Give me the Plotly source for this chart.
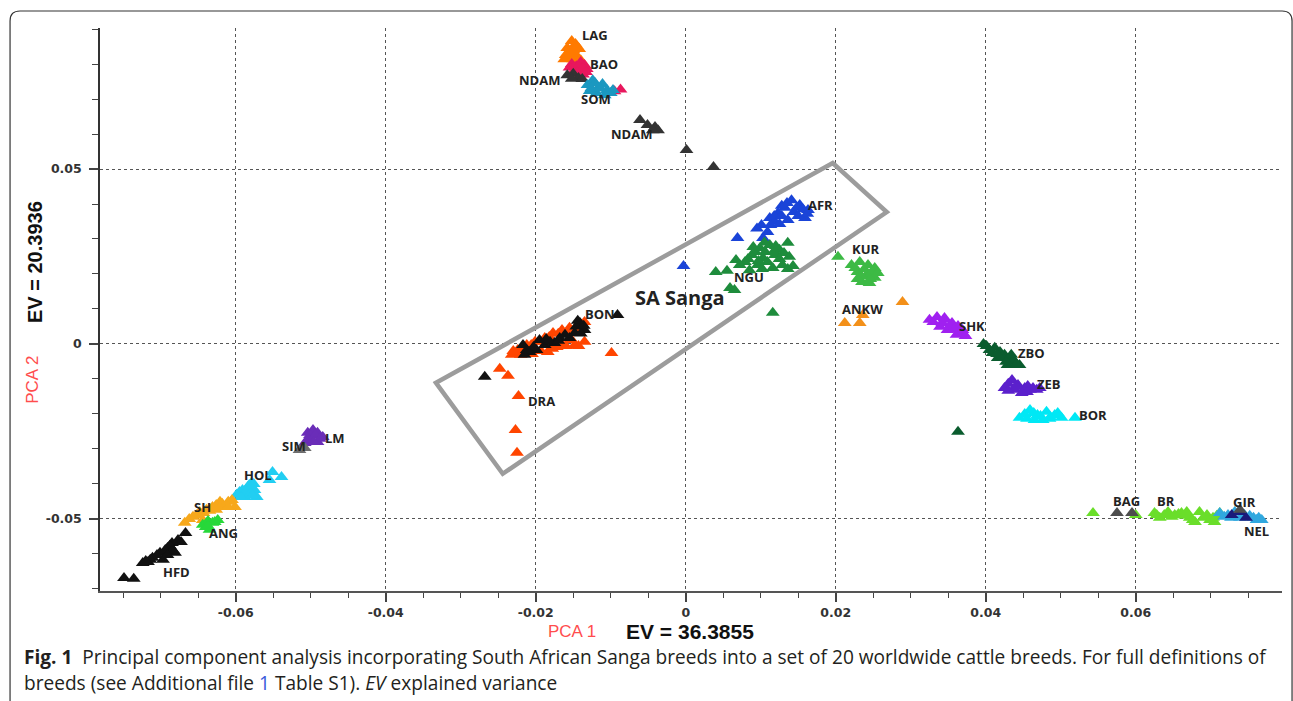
import plotly.graph_objects as go

# ---------------- data (PCA1, PCA2) ----------------
LAG_x = [-0.0152, -0.0147, -0.0158, -0.0150, -0.0142, -0.0160, -0.0153, -0.0145, -0.0140, -0.0162, -0.0148,
         -0.0155, -0.0148, -0.0145, -0.0157, -0.0150]
LAG_y = [0.0866, 0.0857, 0.0846, 0.0840, 0.0843, 0.0826, 0.0823, 0.0820, 0.0811, 0.0814, 0.0806,
         0.0834, 0.0831, 0.0850, 0.0817, 0.0814]

BAO_x = [-0.0152, -0.0146, -0.0140, -0.0135, -0.0148, -0.0140, -0.0132, -0.0155, -0.0137, -0.0143, -0.0087, -0.0095,
         -0.0149, -0.0143, -0.0137, -0.0145, -0.0150, -0.0133]
BAO_y = [0.0800, 0.0794, 0.0806, 0.0797, 0.0783, 0.0780, 0.0786, 0.0790, 0.0770, 0.0768, 0.0727, 0.0722,
         0.0791, 0.0794, 0.0789, 0.0776, 0.0777, 0.0777]

NDAM_x = [-0.0158, -0.0150, -0.0143, -0.0138, -0.0152, -0.0061, -0.0051, -0.0041, -0.0037, -0.0044, 0.0001, 0.0037]
NDAM_y = [0.0768, 0.0772, 0.0760, 0.0757, 0.0758, 0.0640, 0.0626, 0.0620, 0.0611, 0.0611, 0.0554, 0.0506]

SOM_x = [-0.0131, -0.0124, -0.0117, -0.0111, -0.0105, -0.0100, -0.0119, -0.0128, -0.0108, -0.0097,
         -0.0126, -0.0114, -0.0121, -0.0103]
SOM_y = [0.0740, 0.0754, 0.0731, 0.0743, 0.0726, 0.0717, 0.0717, 0.0723, 0.0711, 0.0726,
         0.0731, 0.0731, 0.0746, 0.0717]

AFR_x = [0.0141, 0.0152, 0.0163, 0.0132, 0.0123, 0.0144, 0.0159, 0.0112, 0.0101, 0.0136, 0.0119, 0.0109, 0.0103, 0.0069, -0.0003,
         0.0128, 0.0135, 0.0148, 0.0156, 0.0118, 0.0128, 0.0150, 0.0095, 0.0113, 0.0125, 0.0162]
AFR_y = [0.0411, 0.0397, 0.0383, 0.0389, 0.0374, 0.0377, 0.0360, 0.0360, 0.0340, 0.0354, 0.0349, 0.0320, 0.0303, 0.0303, 0.0223,
         0.0395, 0.0403, 0.0390, 0.0385, 0.0366, 0.0366, 0.0366, 0.0330, 0.0340, 0.0343, 0.0372]

NGU_x = [0.0099, 0.0112, 0.0125, 0.0136, 0.0088, 0.0103, 0.0119, 0.0079, 0.0072, 0.0096, 0.0109, 0.0129, 0.0143, 0.0116, 0.0085,
         0.0040, 0.0055, 0.0059, 0.0065, 0.0116,
         0.0093, 0.0106, 0.0118, 0.0131, 0.0083, 0.0097, 0.0125, 0.0138, 0.0090, 0.0105, 0.0120, 0.0067, 0.0102, 0.0136]
NGU_y = [0.0274, 0.0283, 0.0269, 0.0289, 0.0254, 0.0246, 0.0254, 0.0234, 0.0226, 0.0226, 0.0234, 0.0226, 0.0223, 0.0217, 0.0211,
         0.0206, 0.0209, 0.0160, 0.0154, 0.0089,
         0.0263, 0.0263, 0.0266, 0.0260, 0.0243, 0.0237, 0.0243, 0.0249, 0.0277, 0.0290, 0.0280, 0.0240, 0.0214, 0.0214]

KUR_x = [0.0203, 0.0221, 0.0232, 0.0243, 0.0252, 0.0229, 0.0241, 0.0252, 0.0235, 0.0245,
         0.0226, 0.0238, 0.0248, 0.0234, 0.0246, 0.0256, 0.0229]
KUR_y = [0.0249, 0.0226, 0.0234, 0.0226, 0.0217, 0.0206, 0.0197, 0.0189, 0.0177, 0.0174,
         0.0217, 0.0214, 0.0206, 0.0194, 0.0186, 0.0203, 0.0186]

ANKW_x = [0.0212, 0.0232, 0.0236, 0.0289]
ANKW_y = [0.0060, 0.0060, 0.0083, 0.0120]

DRA_x = [-0.0232, -0.0224, -0.0212, -0.0201, -0.0188, -0.0177, -0.0165, -0.0155, -0.0144, -0.0135, -0.0164, -0.0148, -0.0135,
         -0.0184, -0.0099, -0.0248, -0.0237, -0.0223, -0.0227, -0.0225,
         -0.0226, -0.0218, -0.0206, -0.0195, -0.0182, -0.0170, -0.0158, -0.0149, -0.0140, -0.0172, -0.0160, -0.0143,
         -0.0193, -0.0205, -0.0220, -0.0230, -0.0178, -0.0152]
DRA_y = [-0.0031, -0.0017, -0.0003, 0.0006, 0.0017, 0.0031, 0.0040, 0.0046, 0.0054, 0.0063, -0.0003, -0.0003, 0.0006,
         -0.0023, -0.0026, -0.0071, -0.0091, -0.0149, -0.0246, -0.0311,
         -0.0026, -0.0011, -0.0003, 0.0006, 0.0020, 0.0029, 0.0034, 0.0040, 0.0043, -0.0009, -0.0006, -0.0006,
         -0.0020, -0.0029, -0.0031, -0.0020, -0.0014, 0.0011]

BON_x = [-0.0091, -0.0141, -0.0135, -0.0148, -0.0155, -0.0168, -0.0175, -0.0188, -0.0199, -0.0208, -0.0215, -0.0195, -0.0217, -0.0268,
         -0.0146, -0.0161, -0.0181, -0.0203, -0.0212, -0.0140, -0.0170, -0.0136, -0.0144, -0.0186]
BON_y = [0.0083, 0.0060, 0.0040, 0.0031, 0.0017, 0.0017, 0.0003, -0.0003, -0.0017, -0.0023, -0.0031, 0.0011, -0.0003, -0.0094,
         0.0050, 0.0026, 0.0006, -0.0009, -0.0017, 0.0030, 0.0009, 0.0052, 0.0066, 0.0014]

SHK_x = [0.0325, 0.0335, 0.0345, 0.0355, 0.0363, 0.0369, 0.0373, 0.0361, 0.0349, 0.0339,
         0.0330, 0.0342, 0.0352, 0.0358, 0.0366, 0.0370, 0.0345]
SHK_y = [0.0069, 0.0077, 0.0069, 0.0060, 0.0051, 0.0040, 0.0023, 0.0026, 0.0040, 0.0049,
         0.0063, 0.0060, 0.0051, 0.0043, 0.0031, 0.0030, 0.0074]

ZBO_x = [0.0397, 0.0405, 0.0412, 0.0419, 0.0425, 0.0432, 0.0439, 0.0445, 0.0429, 0.0416, 0.0363,
         0.0401, 0.0409, 0.0422, 0.0436, 0.0441, 0.0427, 0.0415, 0.0434]
ZBO_y = [0.0000, -0.0017, -0.0011, -0.0023, -0.0031, -0.0040, -0.0051, -0.0060, -0.0060, -0.0040, -0.0251,
         -0.0006, -0.0026, -0.0037, -0.0049, -0.0057, -0.0051, -0.0029, -0.0031]

ZEB_x = [0.0425, 0.0435, 0.0443, 0.0452, 0.0459, 0.0468, 0.0472, 0.0439, 0.0448,
         0.0430, 0.0440, 0.0456, 0.0463, 0.0430, 0.0455]
ZEB_y = [-0.0126, -0.0103, -0.0117, -0.0126, -0.0131, -0.0131, -0.0126, -0.0131, -0.0140,
         -0.0114, -0.0120, -0.0120, -0.0126, -0.0134, -0.0137]

BOR_x = [0.0445, 0.0459, 0.0469, 0.0476, 0.0481, 0.0492, 0.0501, 0.0465, 0.0519,
         0.0452, 0.0464, 0.0473, 0.0486, 0.0496, 0.0455, 0.0485]
BOR_y = [-0.0211, -0.0189, -0.0203, -0.0217, -0.0194, -0.0203, -0.0211, -0.0217, -0.0211,
         -0.0200, -0.0197, -0.0206, -0.0209, -0.0197, -0.0214, -0.0214]

BR_x = [0.0543, 0.0600, 0.0625, 0.0632, 0.0643, 0.0652, 0.0661, 0.0672, 0.0679, 0.0685, 0.0695, 0.0703, 0.0705, 0.0712,
        0.0628, 0.0638, 0.0648, 0.0657, 0.0666, 0.0676, 0.0690, 0.0699, 0.0708, 0.0668]
BR_y = [-0.0483, -0.0489, -0.0483, -0.0497, -0.0480, -0.0489, -0.0483, -0.0497, -0.0509, -0.0480, -0.0489, -0.0497, -0.0509, -0.0483,
        -0.0489, -0.0489, -0.0494, -0.0486, -0.0491, -0.0503, -0.0497, -0.0503, -0.0491, -0.0480]

BAG_x = [0.0575, 0.0595, 0.0739]
BAG_y = [-0.0483, -0.0483, -0.0474]

NEL_x = [0.0712, 0.0723, 0.0739, 0.0752, 0.0761, 0.0768, 0.0732, 0.0718, 0.0727, 0.0745, 0.0757, 0.0764]
NEL_y = [-0.0483, -0.0489, -0.0497, -0.0491, -0.0503, -0.0503, -0.0480, -0.0494, -0.0497, -0.0489, -0.0497, -0.0497]

GIR_x = [0.0728, 0.0739, 0.0747]
GIR_y = [-0.0489, -0.0480, -0.0497]

LM_x = [-0.0504, -0.0497, -0.0491, -0.0484, -0.0499, -0.0508, -0.0491, -0.0501, -0.0494, -0.0488, -0.0503, -0.0496]
LM_y = [-0.0254, -0.0246, -0.0254, -0.0266, -0.0274, -0.0283, -0.0280, -0.0260, -0.0260, -0.0271, -0.0274, -0.0280]

SIM_x = [-0.0515, -0.0508]
SIM_y = [-0.0303, -0.0297]

HOL_x = [-0.0599, -0.0591, -0.0584, -0.0579, -0.0575, -0.0588, -0.0572, -0.0555, -0.0551, -0.0539,
         -0.0595, -0.0586, -0.0580, -0.0582, -0.0576, -0.0593, -0.0578]
HOL_y = [-0.0431, -0.0417, -0.0409, -0.0397, -0.0417, -0.0437, -0.0437, -0.0389, -0.0366, -0.0380,
         -0.0423, -0.0420, -0.0426, -0.0403, -0.0400, -0.0437, -0.0434]

SH_x = [-0.0668, -0.0657, -0.0648, -0.0639, -0.0631, -0.0621, -0.0615, -0.0605, -0.0601, -0.0644,
        -0.0662, -0.0652, -0.0643, -0.0635, -0.0626, -0.0618, -0.0610, -0.0626, -0.0610]
SH_y = [-0.0511, -0.0494, -0.0480, -0.0474, -0.0466, -0.0451, -0.0466, -0.0446, -0.0466, -0.0503,
        -0.0500, -0.0489, -0.0483, -0.0477, -0.0460, -0.0457, -0.0451, -0.0474, -0.0466]

ANG_x = [-0.0644, -0.0637, -0.0631, -0.0635, -0.0624, -0.0640, -0.0628, -0.0637]
ANG_y = [-0.0517, -0.0506, -0.0511, -0.0531, -0.0503, -0.0523, -0.0509, -0.0520]

HFD_x = [-0.0667, -0.0685, -0.0677, -0.0691, -0.0701, -0.0711, -0.0717, -0.0697, -0.0681, -0.0724, -0.0749, -0.0736,
         -0.0688, -0.0694, -0.0705, -0.0714, -0.0684, -0.0691, -0.0720, -0.0673]
HFD_y = [-0.0540, -0.0569, -0.0560, -0.0583, -0.0597, -0.0611, -0.0623, -0.0617, -0.0597, -0.0626, -0.0669, -0.0671,
         -0.0577, -0.0589, -0.0603, -0.0617, -0.0589, -0.0603, -0.0620, -0.0566]

# breed labels
label_text = ["LAG", "BAO", "NDAM", "SOM", "NDAM", "AFR", "NGU", "KUR", "ANKW", "BON", "DRA",
              "SHK", "ZBO", "ZEB", "BOR", "BAG", "BR", "GIR", "NEL", "SIM", "LM", "HOL", "SH", "ANG", "HFD"]
label_x = [-0.0121, -0.0109, -0.0195, -0.0120, -0.0072, 0.0179, 0.0084, 0.0240, 0.0236, -0.0115, -0.0192,
           0.0381, 0.0461, 0.0484, 0.0543, 0.0588, 0.0640, 0.0745, 0.0761, -0.0523, -0.0468, -0.0571, -0.0644, -0.0616, -0.0679]
label_y = [0.0883, 0.0800, 0.0754, 0.0700, 0.0600, 0.0397, 0.0191, 0.0271, 0.0100, 0.0086, -0.0163,
           0.0051, -0.0026, -0.0114, -0.0203, -0.0449, -0.0449, -0.0451, -0.0534, -0.0291, -0.0269, -0.0374, -0.0466, -0.0540, -0.0651]

# SA Sanga box corners
box_x = [-0.0333, -0.0244, 0.0268, 0.0196]
box_y = [-0.0111, -0.0371, 0.0377, 0.0517]

x_tickvals = [-0.06, -0.04, -0.02, 0, 0.02, 0.04, 0.06]
x_ticktext = ["-0.06", "-0.04", "-0.02", "0", "0.02", "0.04", "0.06"]
y_tickvals = [-0.05, 0, 0.05]
y_ticktext = ["-0.05", "0", "0.05"]

# ---------------- figure ----------------
series = [
    ("LAG", LAG_x, LAG_y, "#ff7a00"),
    ("BAO", BAO_x, BAO_y, "#e8175d"),
    ("NDAM", NDAM_x, NDAM_y, "#333333"),
    ("SOM", SOM_x, SOM_y, "#1b98c0"),
    ("AFR", AFR_x, AFR_y, "#1a44d8"),
    ("NGU", NGU_x, NGU_y, "#1e8c3c"),
    ("KUR", KUR_x, KUR_y, "#3dba45"),
    ("ANKW", ANKW_x, ANKW_y, "#f39019"),
    ("DRA", DRA_x, DRA_y, "#ff4500"),
    ("BON", BON_x, BON_y, "#111111"),
    ("SHK", SHK_x, SHK_y, "#a020f0"),
    ("ZBO", ZBO_x, ZBO_y, "#0a5c2e"),
    ("ZEB", ZEB_x, ZEB_y, "#5b20cc"),
    ("BOR", BOR_x, BOR_y, "#00e8f5"),
    ("BR", BR_x, BR_y, "#6ade2a"),
    ("NEL", NEL_x, NEL_y, "#30a8df"),
    ("GIR", GIR_x, GIR_y, "#1a1a7a"),
    ("BAG", BAG_x, BAG_y, "#4d4d4d"),
    ("LM", LM_x, LM_y, "#6a2db8"),
    ("SIM", SIM_x, SIM_y, "#6e6e6e"),
    ("HOL", HOL_x, HOL_y, "#22cef2"),
    ("SH", SH_x, SH_y, "#f7a81b"),
    ("ANG", ANG_x, ANG_y, "#27d83a"),
    ("HFD", HFD_x, HFD_y, "#111111"),
]

fig = go.Figure()
for name, xs, ys, col in series:
    fig.add_trace(go.Scatter(
        x=xs, y=ys, mode="markers", name=name, showlegend=False,
        marker=dict(symbol="triangle-up", size=12, color=col, line=dict(width=0)),
    ))

annotations = []
for t, lx, ly in zip(label_text, label_x, label_y):
    annotations.append(dict(x=lx, y=ly, xref="x", yref="y", text="<b>%s</b>" % t,
                            xanchor="center", yanchor="middle",
                            showarrow=False, font=dict(family="Open Sans", size=13, color="#222222")))

annotations.append(dict(x=-0.0008, y=0.0134, xref="x", yref="y", text="<b>SA Sanga</b>", showarrow=False,
                        xanchor="center", yanchor="middle",
                        font=dict(family="Open Sans", size=20, color="#222222")))

# axis titles
annotations += [
    dict(x=0.3993, y=-0.0728, xref="paper", yref="paper", text="PCA 1", showarrow=False,
         xanchor="center", yanchor="middle",
         font=dict(family="Liberation Sans", size=17, color="#ff4d4d")),
    dict(x=0.4992, y=-0.0728, xref="paper", yref="paper", text="<b>EV = 36.3855</b>", showarrow=False,
         xanchor="center", yanchor="middle",
         font=dict(family="Liberation Sans", size=21, color="#111111")),
    dict(x=-0.055, y=0.5844, xref="paper", yref="paper", text="<b>EV = 20.3936</b>", showarrow=False,
         xanchor="center", yanchor="middle", textangle=-90,
         font=dict(family="Liberation Sans", size=20, color="#111111")),
    dict(x=-0.0567, y=0.375, xref="paper", yref="paper", text="PCA 2", showarrow=False,
         xanchor="center", yanchor="middle", textangle=-90,
         font=dict(family="Liberation Sans", size=17, color="#ff4d4d")),
]

# caption
annotations += [
    dict(x=-0.066, y=-0.1172, xref="paper", yref="paper", xanchor="left", yanchor="middle", showarrow=False,
         text="<b>Fig. 1</b>&nbsp;&nbsp;Principal component analysis incorporating South African Sanga breeds into a set of 20 worldwide cattle breeds. For full definitions of",
         font=dict(family="Open Sans", size=19.1, color="#231f20")),
    dict(x=-0.066, y=-0.1634, xref="paper", yref="paper", xanchor="left", yanchor="middle", showarrow=False,
         text="breeds (see Additional file <span style='color:#3b5bdb'>1</span> Table S1). <i>EV</i> explained variance",
         font=dict(family="Open Sans", size=19.1, color="#231f20")),
]

# SA Sanga box
box_path = "M %f,%f L %f,%f L %f,%f L %f,%f Z" % (box_x[0], box_y[0], box_x[1], box_y[1],
                                                   box_x[2], box_y[2], box_x[3], box_y[3])
# figure border (rounded top corners)
rx, ry = 10 / 1182, 10 / 563
x0, x1, yt, yb = -0.0761, 1.0085, 1.0302, -0.3
border_path = ("M %f,%f L %f,%f Q %f,%f %f,%f L %f,%f Q %f,%f %f,%f L %f,%f" %
               (x0, yb, x0, yt - ry, x0, yt, x0 + rx, yt, x1 - rx, yt, x1, yt, x1, yt - ry, x1, yb))

shapes = [
    dict(type="path", xref="x", yref="y", path=box_path, line=dict(color="#9c9c9c", width=4.5)),
    dict(type="path", xref="paper", yref="paper", path=border_path, line=dict(color="#333333", width=1.2)),
]

fig.update_layout(
    width=1293, height=701,
    margin=dict(l=100, r=11, t=28, b=110),
    paper_bgcolor="white", plot_bgcolor="white",
    annotations=annotations, shapes=shapes,
    xaxis=dict(range=[-0.0781, 0.0795], tickmode="array", tickvals=x_tickvals, ticktext=x_ticktext,
               showgrid=True, gridcolor="#555555", griddash="dot", gridwidth=1, zeroline=False,
               showline=True, linecolor="#555555", linewidth=2,
               ticks="outside", ticklen=9, tickwidth=1.5, tickcolor="#444444",
               minor=dict(dtick=0.005, tick0=0, ticks="outside", ticklen=5, tickwidth=1.2,
                          tickcolor="#444444", showgrid=False),
               tickfont=dict(family="DejaVu Sans", size=12.5, color="#333333", weight="bold")),
    yaxis=dict(range=[-0.0706, 0.0903], tickmode="array", tickvals=y_tickvals, ticktext=y_ticktext,
               showgrid=True, gridcolor="#555555", griddash="dot", gridwidth=1, zeroline=False,
               showline=True, linecolor="#333333", linewidth=1.5,
               ticks="outside", ticklen=9, tickwidth=1.5, tickcolor="#444444",
               ticklabelstandoff=5,
               minor=dict(dtick=0.01, tick0=0, ticks="outside", ticklen=6, tickwidth=1.2,
                          tickcolor="#444444", showgrid=False),
               tickfont=dict(family="DejaVu Sans", size=12.5, color="#333333", weight="bold")),
)

fig.write_html("out.html", config={"displayModeBar": False},
               post_script="document.body.style.margin='0';")
